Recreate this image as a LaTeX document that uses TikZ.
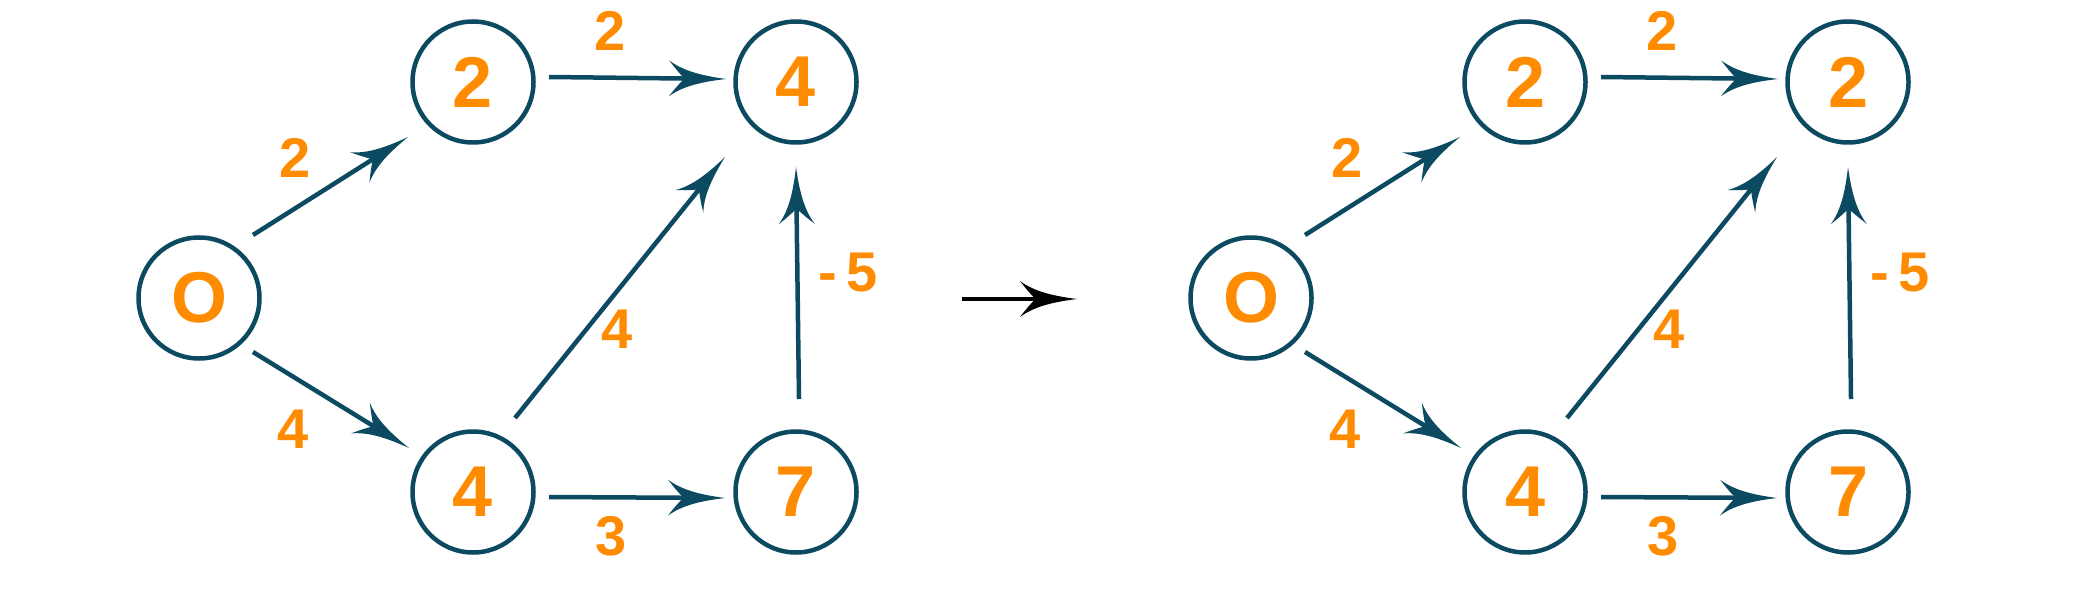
\documentclass[tikz,border=0pt]{standalone}
\usepackage{fontspec}
\setmainfont{Liberation Sans}
\usetikzlibrary{arrows.meta,calc}
\definecolor{edgecol}{HTML}{0B4A60}
\definecolor{numcol}{HTML}{FF8C00}
\pgfdeclarearrow{
  name = Curvy,
  parameters = {\the\pgfarrowlength,\the\pgfarrowwidth},
  setup code = {
    \pgfarrowssettipend{0pt}
    \pgfarrowssetlineend{-0.7\pgfarrowlength}
    \pgfarrowssetbackend{-\pgfarrowlength}
    \pgfarrowshullpoint{0pt}{0pt}
    \pgfarrowsupperhullpoint{-\pgfarrowlength}{.5\pgfarrowwidth}
    \pgfarrowssavethe\pgfarrowlength
    \pgfarrowssavethe\pgfarrowwidth
  },
  drawing code = {
    \pgfpathmoveto{\pgfpointorigin}
    \pgfpathcurveto{\pgfpoint{-0.4\pgfarrowlength}{0.08\pgfarrowwidth}}{\pgfpoint{-0.75\pgfarrowlength}{0.2\pgfarrowwidth}}{\pgfpoint{-\pgfarrowlength}{0.5\pgfarrowwidth}}
    \pgfpathcurveto{\pgfpoint{-0.88\pgfarrowlength}{0.25\pgfarrowwidth}}{\pgfpoint{-0.78\pgfarrowlength}{0.08\pgfarrowwidth}}{\pgfpoint{-0.73\pgfarrowlength}{0pt}}
    \pgfpathcurveto{\pgfpoint{-0.78\pgfarrowlength}{-0.08\pgfarrowwidth}}{\pgfpoint{-0.88\pgfarrowlength}{-0.25\pgfarrowwidth}}{\pgfpoint{-\pgfarrowlength}{-0.5\pgfarrowwidth}}
    \pgfpathcurveto{\pgfpoint{-0.75\pgfarrowlength}{-0.2\pgfarrowwidth}}{\pgfpoint{-0.4\pgfarrowlength}{-0.08\pgfarrowwidth}}{\pgfpointorigin}
    \pgfpathclose
    \pgfusepathqfill
  },
  defaults = {length = 57pt, width = 36pt}
}
\tikzset{
  vert/.style={circle, draw=edgecol, line width=4.5pt, minimum size=121pt, inner sep=0pt,
    text=numcol, font=\fontsize{72}{72}\selectfont\bfseries},
  wlabel/.style={text=numcol, font=\fontsize{56}{56}\selectfont\bfseries, inner sep=0pt},
  conn/.style={color=edgecol, line width=4.5pt, -{Curvy}},
  bigconn/.style={color=black, line width=4.5pt, -{Curvy}},
}
\begin{document}
\begin{tikzpicture}[x=1pt,y=-1pt]
\useasboundingbox[fill=white] (0,0) rectangle (2100,604);
% left graph
\begin{scope}
\node[vert] (a0) at (199,298) {O};
\node[vert] (a2) at (473,82) {2};
\node[vert] (a4t) at (796,82) {4};
\node[vert] (a4b) at (473,492) {4};
\node[vert] (a7) at (796,492) {7};
\draw[conn] ($(a0)+(54,-63)$) -- ($(a2)+(-65,55)$);
\draw[conn] ($(a0)+(54,54)$) -- ($(a4b)+(-64,-44)$);
\draw[conn] ($(a2)+(76,-5)$) -- ($(a4t)+(-70,-3)$);
\draw[conn] ($(a4b)+(76,5)$) -- ($(a7)+(-71,6)$);
\draw[conn] ($(a4b)+(42,-74)$) -- ($(a4t)+(-71,75)$);
\draw[conn] ($(a7)+(3,-93)$) -- ($(a4t)+(0,85)$);
\node[wlabel] (la1) at (295,158) {2};
\node[wlabel] (la2) at (293,429) {4};
\node[wlabel] (la3) at (610,31) {2};
\node[wlabel] (la4) at (611,536) {3};
\node[wlabel] (la5) at (617,329) {4};
\node[wlabel] (la6) at (848,273) {-\kern9pt5};
\end{scope}
% middle arrow
\coordinate (ms) at (962,299);
\coordinate (me) at (1077,299);
\draw[bigconn] (ms) -- (me);
% right graph
\begin{scope}[xshift=1052pt]
\node[vert] (b0) at (199,298) {O};
\node[vert] (b2) at (473,82) {2};
\node[vert] (b4t) at (796,82) {2};
\node[vert] (b4b) at (473,492) {4};
\node[vert] (b7) at (796,492) {7};
\draw[conn] ($(b0)+(54,-63)$) -- ($(b2)+(-65,55)$);
\draw[conn] ($(b0)+(54,54)$) -- ($(b4b)+(-64,-44)$);
\draw[conn] ($(b2)+(76,-5)$) -- ($(b4t)+(-70,-3)$);
\draw[conn] ($(b4b)+(76,5)$) -- ($(b7)+(-71,6)$);
\draw[conn] ($(b4b)+(42,-74)$) -- ($(b4t)+(-71,75)$);
\draw[conn] ($(b7)+(3,-93)$) -- ($(b4t)+(0,85)$);
\node[wlabel] (lb1) at (295,158) {2};
\node[wlabel] (lb2) at (293,429) {4};
\node[wlabel] (lb3) at (610,31) {2};
\node[wlabel] (lb4) at (611,536) {3};
\node[wlabel] (lb5) at (617,329) {4};
\node[wlabel] (lb6) at (848,273) {-\kern9pt5};
\end{scope}
\end{tikzpicture}
\end{document}
